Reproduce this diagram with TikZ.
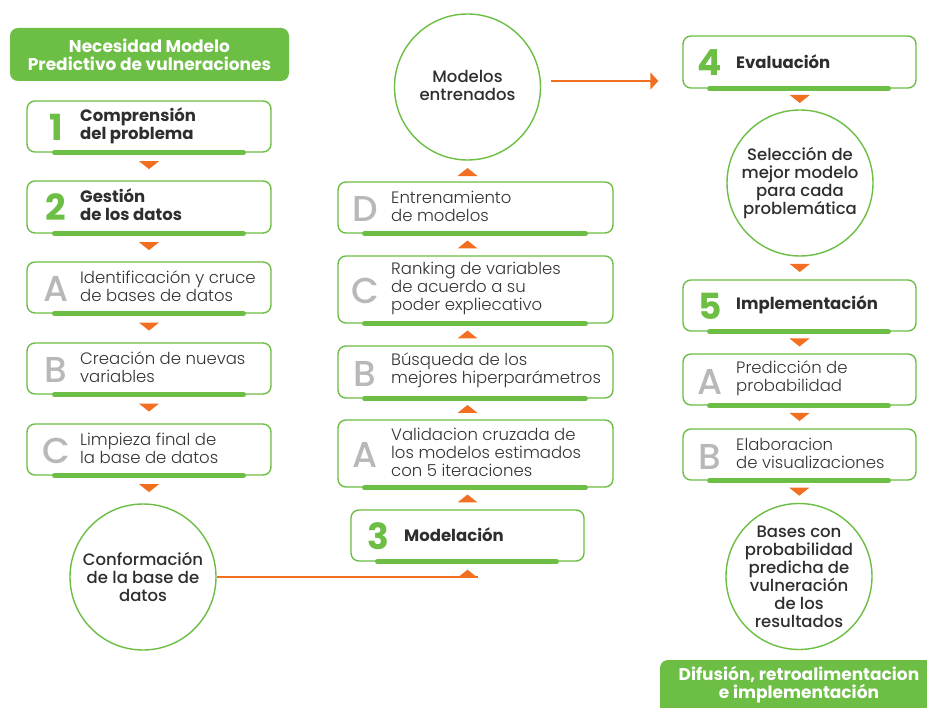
\documentclass[tikz,border=0pt]{standalone}
\usepackage{fontspec}
\setmainfont{Poppins}
\newfontfamily\medfont{Poppins}[UprightFont={* Medium}]
\newfontfamily\lightfont{Poppins}[UprightFont={* Light}]
\usetikzlibrary{calc,arrows.meta}
\definecolor{gr}{HTML}{6CBE45}
\definecolor{orC}{HTML}{F26F21}
\definecolor{grayL}{HTML}{B8B8B8}
\definecolor{txt}{HTML}{2E2E2E}
\definecolor{txtl}{HTML}{333333}
\begin{document}
\begin{tikzpicture}[x=1pt,y=-1pt,
 box/.style={draw=gr, line width=1.4pt, rounded corners=8pt, fill=white, inner sep=0pt},
 bar/.style={draw=gr, line width=4.5pt, line cap=round},
 bignum/.style={text=gr, font=\fontsize{36}{36}\selectfont\bfseries, inner sep=0pt},
 biglet/.style={text=grayL, font=\medfont\fontsize{36}{36}\selectfont, inner sep=0pt},
 lbl/.style={text=txtl, font=\lightfont\fontsize{16.5}{18}\selectfont, align=left, anchor=west, inner sep=0pt},
 blbl/.style={text=txt, font=\fontsize{16.5}{18}\selectfont\bfseries, align=left, anchor=west, inner sep=0pt},
 circ/.style={circle, draw=gr, line width=1.4pt, minimum size=146pt, inner sep=0pt},
 ctext/.style={text=txt, font=\medfont\fontsize{16.5}{18}\selectfont, align=center, inner sep=0pt},
 head/.style={fill=gr, rounded corners=8pt, inner sep=0pt},
 htext/.style={text=white, font=\fontsize{17}{18}\selectfont\bfseries, align=center, inner sep=0pt},
 tridown/.pic={\fill[orC] (-10,-4) -- (10,-4) -- (0,4) -- cycle;},
 triup/.pic={\fill[orC] (-10,4) -- (10,4) -- (0,-4) -- cycle;},
]
\useasboundingbox (0,0) rectangle (927,708);
\clip (0,0) rectangle (927,708);
\fill[white] (0,0) rectangle (927,708);

% ---------- left column ----------
\node[head, htext, minimum width=279pt, minimum height=53pt] (hd) at (149.5,54.5) {Necesidad Modelo\\Predictivo de vulneraciones};

\node[box, minimum width=244pt, minimum height=51pt] (b1) at (149,126.5) {};
\node[box, minimum width=244pt, minimum height=52pt] (b2) at (149,207) {};
\node[box, minimum width=244pt, minimum height=51pt] (bA) at (149,287.5) {};
\node[box, minimum width=244pt, minimum height=51pt] (bB) at (149,368.5) {};
\node[box, minimum width=244pt, minimum height=51pt] (bC) at (149,449.5) {};
\foreach \b in {b1,b2,bA,bB,bC}{\draw[bar] ($(\b.south west)+(28,0)$) -- ($(\b.south east)+(-28,0)$);}

\node[bignum] (n1) at (56,127) {1};
\node[blbl] (t1) at (80,125.5) {Comprensión\\del problema};
\node[bignum] (n2) at (56,207.5) {2};
\node[blbl] (t2) at (80,205) {Gestión\\de los datos};
\node[biglet] (lA) at (56,289) {A};
\node[lbl] (tA) at (80,286.5) {Identificación y cruce\\de bases de datos};
\node[biglet] (lB) at (56,370) {B};
\node[lbl] (tB) at (80,367.5) {Creación de nuevas\\variables};
\node[biglet] (lC) at (56,451) {C};
\node[lbl] (tC) at (80,448.5) {Limpieza final de\\la base de datos};

\node[circ] (conf) at (143,577) {};
\node[ctext] (tconf) at (conf.center) {Conformación\\de la base de\\datos};

\path (b1.south) -- (b2.north) coordinate[pos=0.45] (d1);
\path (b2.south) -- (bA.north) coordinate[pos=0.45] (d2);
\path (bA.south) -- (bB.north) coordinate[pos=0.45] (d3);
\path (bB.south) -- (bC.north) coordinate[pos=0.45] (d4);
\path (bC.south) -- (conf.north -| bC.south) coordinate[pos=0.45] (d5);
\foreach \c in {d1,d2,d3,d4,d5}{\pic at (\c) {tridown};}

% ---------- middle column ----------
\node[circ] (mod) at (467.5,87) {};
\node[ctext] (tmod) at (467.5,85) {Modelos\\entrenados};

\node[box, minimum width=275pt, minimum height=51pt] (mD) at (475.5,207.5) {};
\node[box, minimum width=275pt, minimum height=67pt] (mC) at (475.5,289.5) {};
\node[box, minimum width=275pt, minimum height=52pt] (mB) at (475.5,372) {};
\node[box, minimum width=275pt, minimum height=67pt] (mA) at (475.5,453.5) {};
\node[box, minimum width=233pt, minimum height=51pt] (m3) at (467.5,535.5) {};
\foreach \b in {mD,mC,mB,mA,m3}{\draw[bar] ($(\b.south west)+(27,0)$) -- ($(\b.south east)+(-28,0)$);}

\node[biglet] (lD) at (365,209) {D};
\node[lbl] (tD) at (391,206) {Entrenamiento\\de modelos};
\node[biglet] (lmC) at (365,291) {C};
\node[lbl] (tmC) at (391,288.5) {Ranking de variables\\de acuerdo a su\\poder expliecativo};
\node[biglet] (lmB) at (365,373.5) {B};
\node[lbl] (tmB) at (391,370.5) {Búsqueda de los\\mejores hiperparámetros};
\node[biglet] (lmA) at (365,455) {A};
\node[lbl] (tmA) at (391,452.5) {Validacion cruzada de\\los modelos estimados\\con 5 iteraciones};
\node[bignum] (n3) at (378,536) {3};
\node[blbl] (t3) at (404,535) {Modelación};

\coordinate (u1) at (mod.south |- {$(mod.south)!0.55!(mD.north)$});
\coordinate (u2) at (mod.south |- {$(mD.south)!0.5!(mC.north)$});
\coordinate (u3) at (mod.south |- {$(mC.south)!0.5!(mB.north)$});
\coordinate (u4) at (mod.south |- {$(mB.south)!0.5!(mA.north)$});
\coordinate (u5) at (mod.south |- {$(mA.south)!0.5!(m3.north)$});
\coordinate (u6) at ($(m3.south)+(0,12)$);
\foreach \c in {u1,u2,u3,u4,u5,u6}{\pic at (\c) {triup};}

\coordinate (u6r) at ($(u6)+(10,4)$);
\draw[orC, line width=1.5pt] (conf.east) -- (conf.east -| u6r);

% ---------- right column ----------
\node[box, minimum width=233pt, minimum height=52pt] (r4) at (799.5,62) {};
\node[circ] (sel) at (800,183) {};
\node[box, minimum width=233pt, minimum height=51pt] (r5) at (799.5,305.5) {};
\node[box, minimum width=233pt, minimum height=51pt] (rA) at (799.5,379.5) {};
\node[box, minimum width=233pt, minimum height=51pt] (rB) at (799.5,454.5) {};
\node[circ] (bas) at (799,576.5) {};
\foreach \b in {r4,r5,rA,rB}{\draw[bar] ($(\b.south west)+(27,0)$) -- ($(\b.south east)+(-28,0)$);}

\node[bignum] (n4) at (710,62.5) {4};
\node[blbl] (t4) at (736,61.5) {Evaluación};
\node[ctext] (tsel) at (sel.center) {Selección de\\mejor modelo\\para cada\\problemática};
\node[bignum] (n5) at (710,306.5) {5};
\node[blbl] (t5) at (736,305) {Implementación};
\node[biglet] (lrA) at (710,381.5) {A};
\node[lbl] (trA) at (736,378) {Predicción de\\probabilidad};
\node[biglet] (lrB) at (710,456.5) {B};
\node[lbl] (trB) at (736,453) {Elaboracion\\de visualizaciones};
\node[ctext] (tbas) at (bas.center) {Bases con\\probabilidad\\predicha de\\vulneración\\de los\\resultados};

\path (r4.south) -- (sel.north) coordinate[pos=0.5] (e1);
\path (sel.south) -- (r5.north) coordinate[pos=0.5] (e2);
\path (r5.south) -- (rA.north) coordinate[pos=0.5] (e3);
\path (rA.south) -- (rB.north) coordinate[pos=0.5] (e4);
\path (rB.south) -- (bas.north) coordinate[pos=0.5] (e5);
\foreach \c in {e1,e2,e3,e4,e5}{\pic at (\c) {tridown};}

\coordinate (a0) at ($(mod.east)+(0,-6)$);
\draw[orC, line width=1.5pt, -{Triangle[length=8pt,width=17pt]}, shorten <=10pt, shorten >=24pt]
  (a0) -- (a0 -| r4.west);

% ---------- final box ----------
\fill[gr, rounded corners=8pt] (660,660) rectangle (945,725);
\node[htext] (fin) at (799,685) {Difusión, retroalimentacion\\e implementación};
\end{tikzpicture}
\end{document}
